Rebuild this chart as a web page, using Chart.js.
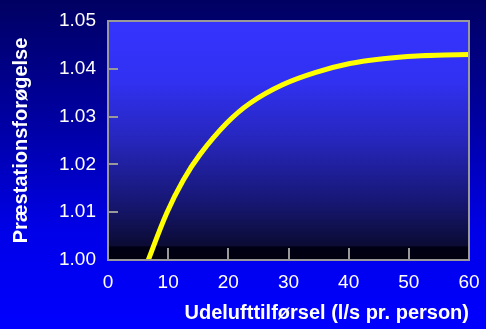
<!DOCTYPE html>
<html>
<head>
<meta charset="utf-8">
<script src="https://cdn.jsdelivr.net/npm/chart.js@4.4.1/dist/chart.umd.min.js"></script>
<style>
  html, body { margin: 0; padding: 0; }
  body {
    width: 486px; height: 329px; overflow: hidden;
    background: linear-gradient(to bottom, #000062 0%, #0000a8 40%, #0000e8 70%, #0000ff 100%);
  }
  #wrap { position: relative; width: 486px; height: 329px; }
</style>
</head>
<body>
<div id="wrap"><canvas id="c" width="486" height="329"></canvas></div>
<script>
// Outdoor air supply (l/s per person) and relative performance
const airflow = [6.7, 9.75, 12.5, 15.3, 19.7, 23.6, 29.1, 34.7, 40.2, 45.7, 51.3, 56, 60];
const performance = [1.000, 1.0098, 1.0167, 1.0221, 1.0286, 1.0328, 1.0367, 1.0393, 1.0411, 1.0421, 1.0427, 1.0429, 1.043];

const xTitle = 'Udelufttilførsel (l/s pr. person)';
const yTitle = 'Præstationsforøgelse';
const xMin = 0, xMax = 60, xStep = 10;
const yMin = 1.00, yMax = 1.05, yStep = 0.01;

const points = airflow.map((x, i) => ({ x: x, y: performance[i] }));

// Plot-area gradient fill, frame and inward tick marks
const plotDecor = {
  id: 'plotDecor',
  beforeDatasetsDraw(chart) {
    const { ctx, chartArea: a } = chart;
    const g = ctx.createLinearGradient(0, a.top, 0, a.bottom);
    g.addColorStop(0.00, '#3434ff');
    g.addColorStop(0.25, '#3131f2');
    g.addColorStop(0.50, '#2626bc');
    g.addColorStop(0.75, '#171776');
    g.addColorStop(0.94, '#0b0b34');
    g.addColorStop(0.945, '#000014');
    g.addColorStop(1.00, '#000010');
    ctx.save();
    ctx.fillStyle = g;
    ctx.fillRect(a.left, a.top, a.right - a.left, a.bottom - a.top);
    ctx.restore();
  },
  afterDatasetsDraw(chart) {
    const { ctx, chartArea: a, scales } = chart;
    ctx.save();
    ctx.strokeStyle = '#999999';
    ctx.lineWidth = 2;
    ctx.beginPath();
    scales.y.ticks.forEach(t => {
      const py = Math.round(scales.y.getPixelForValue(t.value));
      ctx.moveTo(a.left, py);
      ctx.lineTo(a.left + 10, py);
    });
    scales.x.ticks.forEach(t => {
      const px = Math.round(scales.x.getPixelForValue(t.value));
      ctx.moveTo(px, a.bottom);
      ctx.lineTo(px, a.bottom - 12);
    });
    ctx.stroke();
    ctx.strokeRect(a.left, a.top, a.right - a.left, a.bottom - a.top);
    ctx.restore();
  }
};

new Chart(document.getElementById('c'), {
  type: 'line',
  data: {
    datasets: [{
      data: points,
      borderColor: '#ffff00',
      borderWidth: 5,
      pointRadius: 0,
      tension: 0.4,
      fill: false
    }]
  },
  options: {
    responsive: false,
    animation: false,
    layout: { padding: { top: 21, right: 17, left: 0, bottom: 0 } },
    plugins: { legend: { display: false }, tooltip: { enabled: false } },
    scales: {
      x: {
        type: 'linear', min: xMin, max: xMax,
        border: { display: false },
        grid: { display: false },
        ticks: {
          stepSize: xStep, color: '#ffffff', padding: 3,
          font: { family: 'Liberation Sans, Arial, sans-serif', size: 19 },
          maxRotation: 0
        },
        title: {
          display: true, text: xTitle, color: '#ffffff',
          font: { family: 'Liberation Sans, Arial, sans-serif', size: 20, weight: 'bold' },
          align: 'end', padding: { top: 0, bottom: 4 }
        },
        afterFit(s) { s.height = 69; }
      },
      y: {
        type: 'linear', min: yMin, max: yMax,
        border: { display: false },
        grid: { display: false },
        ticks: {
          stepSize: yStep, color: '#ffffff', padding: 4,
          font: { family: 'Liberation Sans, Arial, sans-serif', size: 19 },
          callback: v => v.toFixed(2)
        },
        title: {
          display: true, text: yTitle, color: '#ffffff',
          font: { family: 'Liberation Sans, Arial, sans-serif', size: 20, weight: 'bold' },
          padding: { top: 9, bottom: 0 }
        },
        afterFit(s) { s.width = 108; }
      }
    }
  },
  plugins: [plotDecor]
});
</script>
</body>
</html>
